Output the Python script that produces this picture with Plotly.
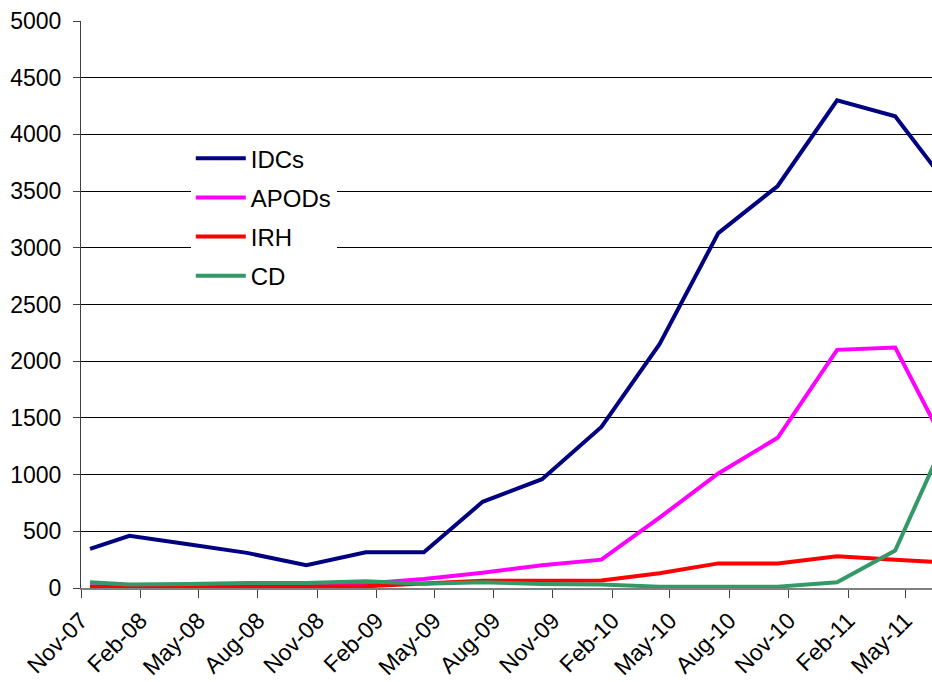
import plotly.graph_objects as go

dates = ["2007-11-15", "2008-01-15", "2008-04-15", "2008-07-15", "2008-10-15",
         "2009-01-15", "2009-04-15", "2009-07-15", "2009-10-15", "2010-01-15",
         "2010-04-15", "2010-07-15", "2010-10-15", "2011-01-15", "2011-04-15",
         "2011-07-15"]
idcs = [345, 460, 385, 310, 200, 315, 315, 760, 960, 1420, 2150, 3130, 3545, 4300, 4160, 3480]
apods = [15, 15, 20, 25, 30, 40, 80, 135, 200, 250, 620, 1010, 1325, 2100, 2120, 1120]
irh = [10, 5, 10, 10, 10, 15, 40, 65, 65, 67, 130, 217, 217, 280, 250, 220]
cd = [50, 30, 35, 45, 45, 60, 38, 50, 35, 30, 12, 12, 12, 50, 330, 1480]

series = [("IDCs", idcs, "#000080"), ("APODs", apods, "#FF00FF"),
          ("IRH", irh, "#FF0000"), ("CD", cd, "#339966")]

FONT = "Liberation Sans, Arial, sans-serif"
TICK_FS = 23
LEG_FS = 24

fig = go.Figure()
for i, (name, vals, col) in enumerate(series):
    fig.add_trace(go.Scatter(x=dates, y=vals, name=name, mode="lines",
                             line=dict(color=col, width=4),
                             legendgroup=f"g{i}"))

fig.update_layout(
    width=932, height=682,
    margin=dict(l=81, r=0, t=21, b=94),
    paper_bgcolor="white", plot_bgcolor="white",
    font=dict(family=FONT, size=TICK_FS, color="black"),
    showlegend=True,
    legend=dict(x=0.129, y=0.797, xanchor="left", yanchor="top",
                bgcolor="white", borderwidth=0,
                font=dict(family=FONT, size=LEG_FS, color="black"),
                tracegroupgap=5, itemwidth=50),
    xaxis=dict(type="date", range=["2007-11-01", "2011-06-11"],
               tick0="2007-11-01", dtick="M3", tickformat="%b-%y",
               tickangle=-45, ticks="outside", ticklen=8, tickcolor="#404040",
               showgrid=False, showline=True, linecolor="#808080", linewidth=2,
               automargin=False,
               tickfont=dict(family=FONT, size=TICK_FS, color="black")),
    yaxis=dict(range=[0, 5000], tick0=0, dtick=500, ticks="outside", ticklen=7,
               tickcolor="#404040", showgrid=True, gridcolor="#000000", gridwidth=1,
               zeroline=False, showline=True, linecolor="#404040", linewidth=1,
               automargin=False, ticklabelstandoff=7,
               tickfont=dict(family=FONT, size=TICK_FS, color="black")),
)

fig.write_html(
    "out.html",
    config={"displayModeBar": False},
    post_script="document.body.style.margin='0px';"
                "document.documentElement.style.overflow='hidden';",
)
